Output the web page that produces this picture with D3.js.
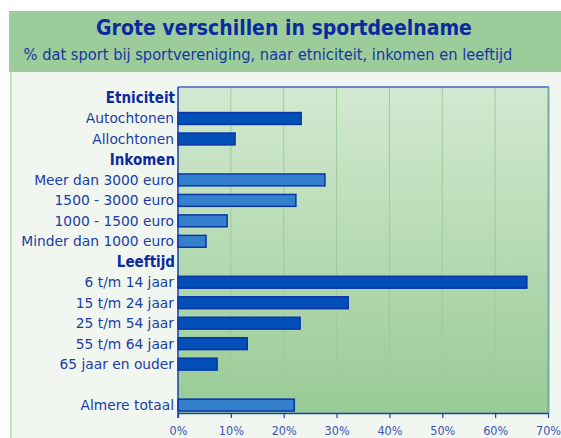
<!DOCTYPE html>
<html>
<head>
<meta charset="utf-8">
<script src="https://cdn.jsdelivr.net/npm/d3@7"></script>
<style>
  body { margin: 0; background: #fff; }
  svg { display: block; font-family: "DejaVu Sans", sans-serif; }
</style>
</head>
<body>
<div id="chart"></div>
<script>
// Rows top to bottom; headers have no value, "" is an empty spacer row
const labels = ["Etniciteit", "Autochtonen", "Allochtonen", "Inkomen", "Meer dan 3000 euro",
    "1500 - 3000 euro", "1000 - 1500 euro", "Minder dan 1000 euro", "Leeftijd", "6 t/m 14 jaar",
    "15 t/m 24 jaar", "25 t/m 54 jaar", "55 t/m 64 jaar", "65 jaar en ouder", "", "Almere totaal"];
const values = [null, 23.3, 10.8, null, 27.8, 22.3, 9.3, 5.3, null, 66, 32.2, 23.1, 13.1, 7.4, null, 22];
const groups = ["head", "etn", "etn", "head", "ink", "ink", "ink", "ink", "head", "lft", "lft", "lft", "lft", "lft", "none", "tot"];
const xTicks = [0, 10, 20, 30, 40, 50, 60, 70];

const width = 561, height = 438;
const plot = { left: 178, right: 548, top: 87, bottom: 413 };

const svg = d3.select("#chart").append("svg")
    .attr("width", width)
    .attr("height", height);

// Gradient for plot background
const defs = svg.append("defs");
const grad = defs.append("linearGradient").attr("id", "bg").attr("x1", 0).attr("y1", 0).attr("x2", 0).attr("y2", 1);
grad.append("stop").attr("offset", "0%").attr("stop-color", "#d3e9d1");
grad.append("stop").attr("offset", "100%").attr("stop-color", "#98cb95");

// Page background and header band
svg.append("rect").attr("x", 0).attr("y", 0).attr("width", width).attr("height", height).attr("fill", "#fff");
svg.append("rect").attr("x", 10).attr("y", 72).attr("width", width - 10).attr("height", height - 72).attr("fill", "#f1f7f0");
svg.append("rect").attr("x", 10).attr("y", 72).attr("width", 2).attr("height", height - 72).attr("fill", "#c6e3c3");
svg.append("rect").attr("x", 9).attr("y", 11).attr("width", width - 9).attr("height", 61).attr("fill", "#9ccc9a");

svg.append("text")
    .attr("x", 284).attr("y", 35)
    .attr("text-anchor", "middle")
    .attr("fill", "#0b2aa0")
    .style("font-family", "\"DejaVu Sans Condensed\", sans-serif")
    .style("font-size", "21px")
    .style("font-weight", "bold")
    .text("Grote verschillen in sportdeelname");

svg.append("text")
    .attr("x", 268).attr("y", 60)
    .attr("text-anchor", "middle")
    .attr("fill", "#1636a6")
    .style("font-family", "\"DejaVu Sans Condensed\", sans-serif")
    .style("font-size", "16.3px")
    .text("% dat sport bij sportvereniging, naar etniciteit, inkomen en leeftijd");

// Scales
const x = d3.scaleLinear().domain([0, 70]).range([plot.left, plot.right]);
const y = d3.scaleBand().domain(d3.range(labels.length)).range([87.8, 415.3]).paddingInner(0.42).paddingOuter(0.21);

svg.append("rect")
    .attr("x", plot.left).attr("y", plot.top)
    .attr("width", plot.right - plot.left).attr("height", plot.bottom - plot.top)
    .attr("fill", "url(#bg)");

// Gridlines
svg.append("g")
    .selectAll("line")
    .data(xTicks.slice(1, -1))
    .join("line")
    .attr("x1", d => x(d)).attr("x2", d => x(d))
    .attr("y1", plot.top).attr("y2", plot.bottom)
    .attr("stroke", "#9dcc99")
    .attr("stroke-width", 1);

// Bars
const colors = { etn: "#024fb7", lft: "#024fb7", ink: "#3580cc", tot: "#3580cc" };
svg.append("g")
    .selectAll("rect")
    .data(values.map((v, i) => ({ v, i })).filter(d => d.v !== null))
    .join("rect")
    .attr("x", x(0))
    .attr("y", d => y(d.i))
    .attr("width", d => x(d.v) - x(0))
    .attr("height", y.bandwidth())
    .attr("fill", d => colors[groups[d.i]])
    .attr("stroke", "#0a35a8")
    .attr("stroke-width", 1.5);

// Plot frame: top and right
svg.append("line").attr("x1", plot.left).attr("x2", plot.right + 1).attr("y1", plot.top).attr("y2", plot.top)
    .attr("stroke", "#6b86cc").attr("stroke-width", 2);
svg.append("line").attr("x1", plot.right + 0.5).attr("x2", plot.right + 0.5).attr("y1", plot.top).attr("y2", plot.bottom)
    .attr("stroke", "#78a8a6").attr("stroke-width", 2);

// Left axis line
svg.append("line").attr("x1", plot.left).attr("x2", plot.left).attr("y1", plot.top).attr("y2", plot.bottom + 5)
    .attr("stroke", "#1a3db0").attr("stroke-width", 1.5);

// Category labels
svg.append("g")
    .selectAll("text")
    .data(labels)
    .join("text")
    .attr("x", (d, i) => groups[i] === "head" ? plot.left - 3 : plot.left - 4)
    .attr("y", (d, i) => y(i) + y.bandwidth() / 2)
    .attr("dy", "0.36em")
    .attr("text-anchor", "end")
    .attr("fill", (d, i) => groups[i] === "head" ? "#0b2aa0" : "#1a3da6")
    .style("font-size", (d, i) => groups[i] === "head" ? "15px" : "13.8px")
    .style("font-family", (d, i) => groups[i] === "head" ? "\"DejaVu Sans Condensed\", sans-serif" : null)
    .style("font-weight", (d, i) => groups[i] === "head" ? "bold" : "normal")
    .text(d => d);

// Bottom axis
const xAxis = svg.append("g")
    .attr("transform", `translate(0,${plot.bottom})`)
    .call(d3.axisBottom(x).tickValues(xTicks).tickFormat(d => d + "%").tickSize(5).tickSizeOuter(0));
xAxis.select(".domain").attr("stroke", "#1a3db0").attr("stroke-width", 1.5);
xAxis.selectAll(".tick line").attr("stroke", "#1a3db0").attr("stroke-width", 1.2);
xAxis.selectAll(".tick text")
    .attr("fill", "#3a55b0")
    .attr("dy", "1.1em")
    .style("font-size", "12.5px")
    .style("font-family", "\"DejaVu Sans Condensed\", sans-serif");
</script>
</body>
</html>
